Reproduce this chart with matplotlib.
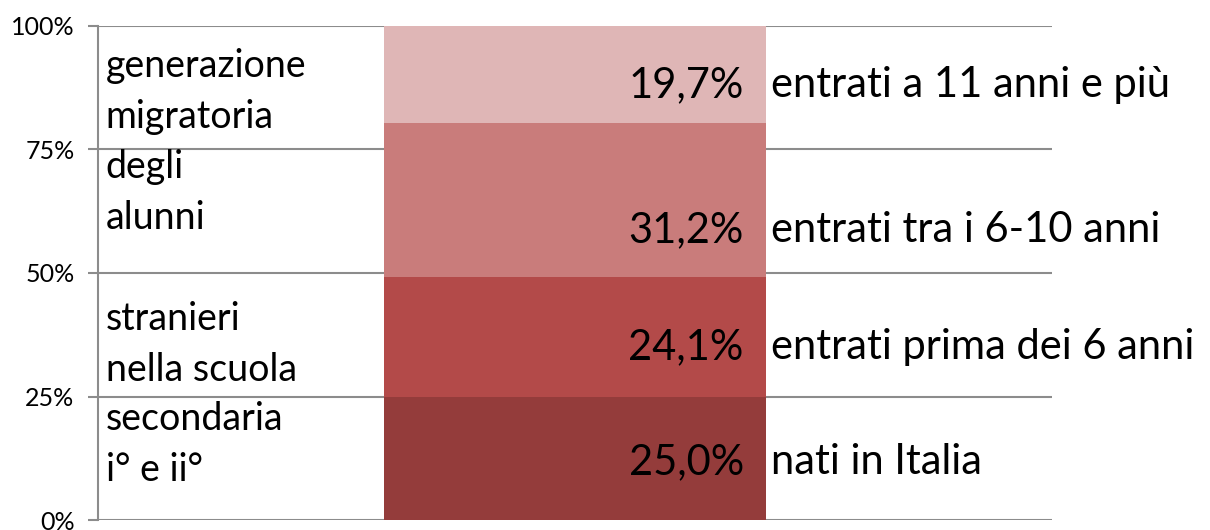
import numpy as np
import matplotlib
matplotlib.use('Agg')
import matplotlib.pyplot as plt

# data (bottom to top)
categories = ['nati in Italia', 'entrati prima dei 6 anni', 'entrati tra i 6-10 anni', 'entrati a 11 anni e più']
values = [25.0, 24.1, 31.2, 19.7]
value_labels = ['25,0%', '24,1%', '31,2%', '19,7%']
colors = ['#943c3b', '#b34a49', '#c97c7b', '#dfb6b6']
side_text = ['generazione\nmigratoria', 'degli\nalunni', 'stranieri\nnella scuola', 'secondaria\ni° e ii°']

# vertical spots for the labels (percent)
label_y = [11.7, 35.0, 58.7, 88.1]
side_y = [86.8, 66.3, 35.6, 15.2]

plt.rcParams['font.family'] = ['Lato', 'DejaVu Sans']

fig = plt.figure(figsize=(12.1, 5.3), dpi=100)
ax = fig.add_axes([98/1210, 10/530, (1052-98)/1210, 494/530])

bottoms = np.concatenate([[0], np.cumsum(values)[:-1]])
ax.bar(0, values, bottom=bottoms, width=0.4, color=colors, zorder=3)

ax.set_xlim(-0.5, 0.5)
ax.set_ylim(0, 100)
ax.set_yticks([0, 25, 50, 75, 100])
ax.set_yticklabels(['0%', '25%', '50%', '75%', '100%'], fontsize=18)
ax.set_xticks([])
ax.yaxis.grid(True, color='#8c8c8c', linewidth=1.5, zorder=0)
ax.tick_params(axis='y', length=7, width=1.5, color='#8c8c8c', pad=10)
for s in ['top', 'right', 'bottom']:
    ax.spines[s].set_visible(False)
ax.spines['left'].set_color('#8c8c8c')
ax.spines['left'].set_linewidth(1.5)

# labels inside and next to the bar
for i in range(len(values)):
    ax.text(0.177, label_y[i], value_labels[i], ha='right', va='center', fontsize=30, zorder=4)
    ax.text(0.205, label_y[i], categories[i], ha='left', va='center', fontsize=30, clip_on=False)

# the text on the left
for i in range(len(side_text)):
    ax.text(-0.492, side_y[i], side_text[i], ha='left', va='center', fontsize=27, linespacing=1.52)

plt.savefig('out.png', dpi=100)
